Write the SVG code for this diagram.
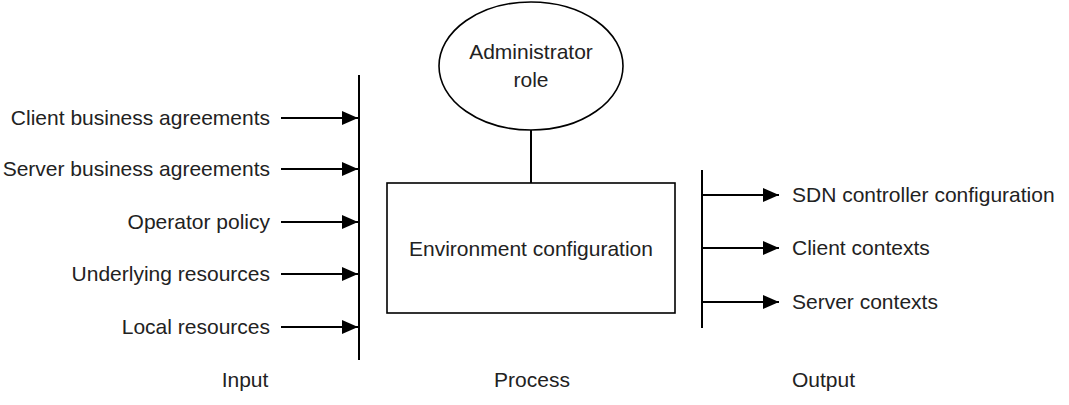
<svg xmlns="http://www.w3.org/2000/svg" width="1069" height="405" viewBox="0 0 1069 405">
<style>
text{font-family:"Liberation Sans",Arial,sans-serif;font-size:21px;fill:#222}
.r{text-anchor:end}
.m{text-anchor:middle}
.ln{stroke:#000;stroke-width:2;fill:none}
.shape{stroke:#000;stroke-width:1.6;fill:#fff}
</style>
<defs>
<marker id="ah2" viewBox="0 0 16 14" refX="16" refY="7" markerWidth="16" markerHeight="14" orient="auto" markerUnits="userSpaceOnUse">
<path d="M0,0 L16,7 L0,14 Z" fill="#000"/>
</marker>
</defs>
<g id="connectors">
<line class="ln" x1="359" y1="75" x2="359" y2="360"/>
<line class="ln" x1="702" y1="170" x2="702" y2="328"/>
<line class="ln" x1="281" y1="118" x2="358" y2="118" marker-end="url(#ah2)"/>
<line class="ln" x1="281" y1="169" x2="358" y2="169" marker-end="url(#ah2)"/>
<line class="ln" x1="281" y1="222" x2="358" y2="222" marker-end="url(#ah2)"/>
<line class="ln" x1="281" y1="274" x2="358" y2="274" marker-end="url(#ah2)"/>
<line class="ln" x1="281" y1="327" x2="358" y2="327" marker-end="url(#ah2)"/>
<line class="ln" x1="702" y1="195" x2="779" y2="195" marker-end="url(#ah2)"/>
<line class="ln" x1="702" y1="248" x2="779" y2="248" marker-end="url(#ah2)"/>
<line class="ln" x1="702" y1="302" x2="779" y2="302" marker-end="url(#ah2)"/>
<line class="ln" x1="531" y1="130" x2="531" y2="183"/>
</g>
<g id="inputs">
<text class="r" x="270" y="125">Client business agreements</text>
<text class="r" x="270" y="176">Server business agreements</text>
<text class="r" x="270" y="229">Operator policy</text>
<text class="r" x="270" y="281">Underlying resources</text>
<text class="r" x="270" y="334">Local resources</text>
</g>
<g id="admin">
<ellipse class="shape" cx="531" cy="66" rx="92" ry="64"/>
<text class="m" x="531" y="59">Administrator</text>
<text class="m" x="531" y="87">role</text>
</g>
<g id="env">
<rect class="shape" x="387" y="183" width="288" height="130"/>
<text class="m" x="531" y="256">Environment configuration</text>
</g>
<g id="outputs">
<text x="792" y="202">SDN controller configuration</text>
<text x="792" y="255">Client contexts</text>
<text x="792" y="309">Server contexts</text>
</g>
<g id="labels">
<text class="m" x="245" y="387">Input</text>
<text class="m" x="532" y="387">Process</text>
<text x="792" y="387">Output</text>
</g>
</svg>
